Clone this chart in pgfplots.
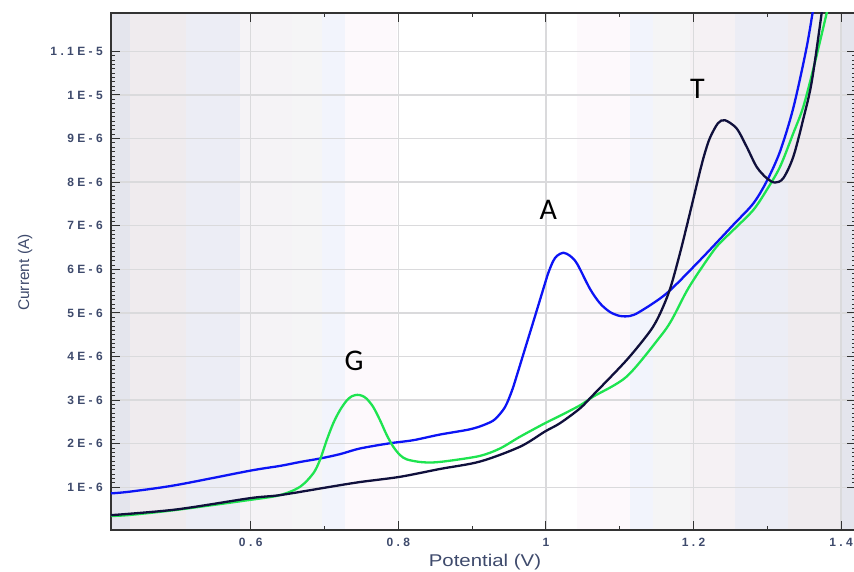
\documentclass[border=0pt]{standalone}
\usepackage{pgfplots}
\pgfplotsset{compat=1.18}
\usepackage{fontspec}
\setmainfont{Liberation Sans}
\newfontfamily\labfont[FakeStretch=1.2]{Liberation Sans}
\newfontfamily\annfont{Carlito}
\newcommand\tk{\kern3.4pt}
\newcommand\T[1]{{\bfseries\fontsize{12}{13}\selectfont #1}}
\definecolor{tickc}{RGB}{62,74,108}
\definecolor{gridc}{RGB}{218,218,220}
\definecolor{bA}{HTML}{E4E5ED}
\definecolor{bB}{HTML}{EFEBEE}
\definecolor{bC}{HTML}{ECEDF5}
\definecolor{bD}{HTML}{F5F3F6}
\definecolor{bE}{HTML}{F5F5F6}
\definecolor{bF}{HTML}{F2F4FC}
\definecolor{bG}{HTML}{FDF9FC}
\definecolor{bH}{HTML}{F5F1F4}
\definecolor{cblue}{RGB}{12,20,245}
\definecolor{cgreen}{RGB}{30,228,80}
\definecolor{cnavy}{RGB}{16,16,60}
\newcommand\band[3]{\addplot[fill=#1, draw=none, on layer=axis background] coordinates {(#2,0.02) (#2,11.88) (#3,11.88) (#3,0.02)} -- cycle;}
\begin{document}
\begin{tikzpicture}
\begin{axis}[
  set layers, clip mode=individual,
  at={(0,0)}, anchor=south west,
  scale only axis, width=745pt, height=517pt,
  xmin=0.4107, xmax=1.4202, ymin=0.02, ymax=11.88,
  xtick={0.6,0.8,1,1.2,1.4}, xticklabels={},
  ytick={1,2,3,4,5,6,7,8,9,10,11}, yticklabels={},
  minor x tick num=1, minor y tick num=9,
  tick align=inside,
  major tick length=9pt, minor tick length=4pt,
  tick style={black!80, line width=0.9pt},
  grid=major,
  major grid style={gridc, line width=1.5pt},
  axis line style={black!80, line width=1.3pt},
  xlabel={Potential (V)},
  ylabel={Current (A)},
  xlabel style={font=\labfont\fontsize{17}{18}\selectfont, text=tickc, at={(axis description cs:0.502,0)}, anchor=base, yshift=-36.5pt},
  ylabel style={font=\fontsize{15.5}{16}\selectfont, text=tickc, at={(axis description cs:-0.1154,0.498)}, anchor=center},
]
\band{bA}{0.4107}{0.4364}
\band{bB}{0.4364}{0.5123}
\band{bC}{0.5123}{0.5855}
\band{bD}{0.5855}{0.6560}
\band{bE}{0.6560}{0.6966}
\band{bF}{0.6966}{0.7278}
\band{bG}{0.7278}{0.7982}
\band{bG}{1.0421}{1.1140}
\band{bF}{1.1140}{1.1451}
\band{bE}{1.1451}{1.1953}
\band{bH}{1.1953}{1.2562}
\band{bC}{1.2562}{1.3281}
\band{bB}{1.3281}{1.4012}
\band{bA}{1.4012}{1.4202}
% blue
\addplot[cblue, line width=2.3pt, smooth] coordinates {
(0.4107,0.86) (0.4364,0.90) (0.4988,1.05) (0.5990,1.38) (0.6397,1.49) (0.6668,1.58)
(0.6939,1.66) (0.7210,1.76) (0.7481,1.89) (0.7888,2.01) (0.8203,2.08) (0.8565,2.21)
(0.8972,2.33) (0.9175,2.44) (0.9310,2.56) (0.9446,2.84) (0.9541,3.22) (0.9609,3.58)
(0.9694,4.05) (0.9830,4.80) (0.9965,5.55) (1.0029,5.90) (1.0096,6.18) (1.0151,6.31)
(1.0236,6.38) (1.0327,6.31) (1.0422,6.13) (1.0598,5.55) (1.0733,5.22) (1.0869,5.02)
(1.1004,4.93) (1.1140,4.93) (1.1275,5.03) (1.1637,5.45) (1.2088,6.21) (1.2539,7.02)
(1.2810,7.51) (1.2992,8.02) (1.3172,8.70) (1.3352,9.70) (1.3534,11.10) (1.3643,12.2)
};
% green
\addplot[cgreen, line width=2.3pt, smooth] coordinates {
(0.4107,0.34) (0.4364,0.365) (0.4988,0.48) (0.5990,0.71) (0.6397,0.82) (0.6668,1.01)
(0.6848,1.32) (0.6939,1.63) (0.7030,2.08) (0.7119,2.47) (0.7210,2.77) (0.7301,2.99)
(0.7373,3.09) (0.7444,3.12) (0.7508,3.10) (0.7572,3.03) (0.7661,2.84) (0.7752,2.54)
(0.7843,2.20) (0.7932,1.93) (0.8023,1.74) (0.8114,1.64) (0.8294,1.58) (0.8474,1.57)
(0.8701,1.61) (0.9107,1.72) (0.9378,1.89) (0.9649,2.16) (0.9988,2.47) (1.0191,2.64)
(1.0462,2.88) (1.0642,3.08) (1.1095,3.54) (1.1546,4.45) (1.1705,4.84) (1.1908,5.50)
(1.2088,5.98) (1.2314,6.52) (1.2539,6.90) (1.2810,7.36) (1.2992,7.82) (1.3172,8.35)
(1.3352,9.12) (1.3488,9.73) (1.3646,10.75) (1.3805,11.88) (1.3877,12.4)
};
% navy
\addplot[cnavy, line width=2.3pt, smooth] coordinates {
(0.4107,0.36) (0.4988,0.49) (0.5990,0.75) (0.6397,0.82) (0.7075,1.01) (0.7481,1.12)
(0.8023,1.24) (0.8565,1.42) (0.9107,1.59) (0.9649,1.93) (0.9988,2.28) (1.0191,2.47)
(1.0462,2.81) (1.0642,3.12) (1.1095,3.92) (1.1411,4.58) (1.1546,4.98) (1.1682,5.55)
(1.1817,6.37) (1.1953,7.30) (1.2088,8.25) (1.2156,8.68) (1.2224,9.02) (1.2331,9.35)
(1.2427,9.42) (1.2585,9.23) (1.2721,8.81) (1.2856,8.35) (1.2992,8.09) (1.3104,7.99)
(1.3217,8.09) (1.3352,8.58) (1.3488,9.45) (1.3602,10.30) (1.3737,11.88) (1.3795,12.6)
};
% tick labels
\pgfplotsinvokeforeach{1,2,3,4,5,6,7,8,9}{
  \node[anchor=east, inner sep=0pt, text=tickc, xshift=-8pt] at (axis cs:0.4107,#1) {\T{#1\tk E\tk-\tk6}};
}
\node[anchor=east, inner sep=0pt, text=tickc, xshift=-8pt] at (axis cs:0.4107,10) {\T{1\tk E\tk-\tk5}};
\node[anchor=east, inner sep=0pt, text=tickc, xshift=-8pt] at (axis cs:0.4107,11) {\T{1\tk.\tk1\tk E\tk-\tk5}};
\node[anchor=north, inner sep=0pt, text=tickc, yshift=-8pt] at (axis cs:0.6,0.02) {\T{0\tk.\tk6}};
\node[anchor=north, inner sep=0pt, text=tickc, yshift=-8pt] at (axis cs:0.8,0.02) {\T{0\tk.\tk8}};
\node[anchor=north, inner sep=0pt, text=tickc, yshift=-8pt] at (axis cs:1.0,0.02) {\T{1}};
\node[anchor=north, inner sep=0pt, text=tickc, yshift=-8pt] at (axis cs:1.2,0.02) {\T{1\tk.\tk2}};
\node[anchor=north, inner sep=0pt, text=tickc, yshift=-8pt] at (axis cs:1.4,0.02) {\T{1\tk.\tk4}};
\node[font=\annfont\fontsize{30}{30}\selectfont, inner sep=0pt] at (axis cs:0.7400,3.908) {G};
\node[font=\annfont\fontsize{30}{30}\selectfont, inner sep=0pt] at (axis cs:1.0033,7.372) {A};
\node[font=\annfont\fontsize{30}{30}\selectfont, inner sep=0pt] at (axis cs:1.2054,10.135) {T};
\end{axis}
\pgfresetboundingbox
\useasboundingbox (-111pt,-42pt) rectangle (743pt,530pt);
\end{tikzpicture}
\end{document}
